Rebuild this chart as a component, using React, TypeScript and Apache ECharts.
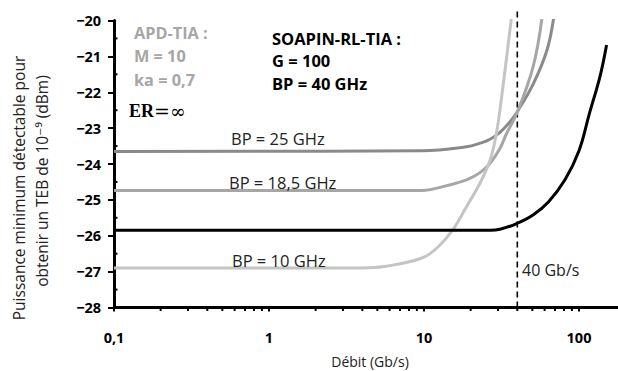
import React, { useEffect, useRef } from "react";
import * as echarts from "echarts";

// Débit (Gb/s) vs puissance minimum détectable (dBm)
const apd25: number[][] = [
  [0.1, -23.65], [9.7, -23.63], [18.8, -23.52], [23, -23.42], [26.7, -23.31],
  [30.9, -23.12], [35.9, -22.82], [39.6, -22.57], [50.5, -21.78], [61.9, -20.85], [68.5, -19.95],
];
const apd185: number[][] = [
  [0.1, -24.74], [9.7, -24.74], [13.2, -24.63], [18.8, -24.44], [23, -24.24], [26.7, -23.98],
  [30.9, -23.57], [34.1, -23.15], [39.6, -22.6], [50.5, -21.3], [57.6, -19.95],
];
const apd10: number[][] = [
  [0.1, -26.9], [4, -26.9], [5.5, -26.86], [9.7, -26.62], [12.4, -26.3], [15.3, -25.84],
  [18.8, -25.19], [23, -24.53], [26.7, -23.89], [29.2, -23.19], [31.8, -22.08], [36.6, -19.95],
];
const soapin: number[][] = [
  [0.1, -25.85], [26.7, -25.85], [30.9, -25.82], [39.6, -25.66], [50.5, -25.42], [63.7, -25.05],
  [81.2, -24.44], [100, -23.63], [116.9, -22.58], [136.4, -21.57], [150.6, -20.68],
];
const markRate = 40;
const markLineY: number[] = [-28, -19.75];
const xMin = 0.1;
const xMax = 178.5;
const yMin = -28;
const yMax = -20;
const xMinorTicks: number[] = [
  0.2, 0.3, 0.4, 0.5, 0.6, 0.7, 0.8, 0.9,
  2, 3, 4, 5, 6, 7, 8, 9,
  20, 30, 40, 50, 60, 70, 80, 90,
];
const yMinorTicks: number[] = [-27.5, -26.5, -25.5, -24.5, -23.5, -22.5, -21.5, -20.5];

const FONT = '"Open Sans", "DejaVu Sans", sans-serif';

export default function App() {
  const ref = useRef<HTMLDivElement>(null);
  useEffect(() => {
    const chart = echarts.init(ref.current!, null, { renderer: "svg" });
    const curve = (name: string, data: number[][], color: string) => ({
      name,
      type: "line",
      data,
      showSymbol: false,
      smooth: 0.4,
      lineStyle: { color, width: 3 },
      z: 3,
    });
    const text = (t: string, x: number, y: number, font: string, fill: string, align = "left") => ({
      type: "text",
      x,
      y,
      style: {
        text: t,
        font,
        fill,
        align,
        textAlign: align,
        verticalAlign: "middle",
        textVerticalAlign: "middle",
      },
      z: 10,
    });
    const vtext = (t: string, x: number, y: number) => ({
      type: "text",
      x,
      y,
      rotation: Math.PI / 2,
      style: {
        text: t,
        font: `15.5px ${FONT}`,
        fill: "#222",
        align: "center",
        textAlign: "center",
        verticalAlign: "middle",
        textVerticalAlign: "middle",
      },
    });
    chart.setOption({
      animation: false,
      grid: { left: 114, top: 20.5, right: 0, bottom: 63.5, containLabel: false },
      xAxis: {
        type: "log",
        min: xMin,
        max: xMax,
        logBase: 10,
        axisLine: { lineStyle: { color: "#000", width: 3 } },
        axisTick: { show: true, length: 4, lineStyle: { color: "#000", width: 2 } },
        splitLine: { show: false },
        axisLabel: {
          margin: 22,
          showMaxLabel: false,
          color: "#000",
          fontWeight: "bold",
          fontSize: 14.5,
          fontFamily: FONT,
          formatter: (v: number) => String(Number(v.toPrecision(6))).replace(".", ","),
        },
      },
      yAxis: {
        type: "value",
        min: yMin,
        max: yMax,
        interval: 1,
        axisLine: { show: true, lineStyle: { color: "#000", width: 3 } },
        axisTick: { show: true, length: 6, lineStyle: { color: "#000", width: 2 } },
        splitLine: { show: false },
        axisLabel: {
          margin: 13,
          color: "#000",
          fontWeight: "bold",
          fontSize: 14.5,
          fontFamily: FONT,
          formatter: (v: number) => String(v).replace("-", "\u2212"),
        },
      },
      series: [
        curve("BP = 25 GHz", apd25, "#8a8a8a"),
        curve("BP = 18,5 GHz", apd185, "#a6a6a6"),
        curve("BP = 10 GHz", apd10, "#c4c4c4"),
        curve("SOAPIN-RL-TIA", soapin, "#000000"),
        {
          name: "40 Gb/s",
          type: "line",
          data: markLineY.map((y) => [markRate, y]),
          showSymbol: false,
          clip: false,
          lineStyle: { color: "#000", width: 1.6, type: [6, 4] },
          z: 2,
        },
        {
          type: "custom",
          clip: false,
          data: xMinorTicks.map((x) => [x, yMin]),
          encode: { x: 0, y: 1 },
          renderItem: (_p: any, api: any) => {
            const p = api.coord([api.value(0), api.value(1)]);
            return {
              type: "line",
              shape: { x1: p[0], y1: p[1], x2: p[0], y2: p[1] + 3.5 },
              style: { stroke: "#000", lineWidth: 2 },
            };
          },
          z: 4,
        },
        {
          type: "custom",
          clip: false,
          data: yMinorTicks.map((y) => [xMin, y]),
          encode: { x: 0, y: 1 },
          renderItem: (_p: any, api: any) => {
            const p = api.coord([api.value(0), api.value(1)]);
            return {
              type: "line",
              shape: { x1: p[0], y1: p[1], x2: p[0] + 3.5, y2: p[1] },
              style: { stroke: "#000", lineWidth: 2 },
            };
          },
          z: 4,
        },
      ],
      graphic: [
        text("APD-TIA :", 134, 33, `bold 16.3px ${FONT}`, "#a6a6a6"),
        text("M = 10", 134, 56, `bold 16.3px ${FONT}`, "#a6a6a6"),
        text("ka = 0,7", 134, 80, `bold 16.3px ${FONT}`, "#a6a6a6"),
        {
          type: "text",
          x: 129,
          y: 111,
          style: {
            text: "{a|ER}{b|=∞}",
            rich: {
              a: { font: 'bold 18px "Liberation Serif", serif', fill: "#000", color: "#000" },
              b: { font: '19px "DejaVu Serif", serif', fill: "#000", color: "#000" },
            },
            align: "left",
            textAlign: "left",
            verticalAlign: "middle",
            textVerticalAlign: "middle",
          },
          z: 10,
        },
        text("SOAPIN-RL-TIA :", 272, 38, `bold 16.5px ${FONT}`, "#000"),
        text("G = 100", 272, 60, `bold 16.5px ${FONT}`, "#000"),
        text("BP = 40 GHz", 272, 83, `bold 16.5px ${FONT}`, "#000"),
        text("BP = 25 GHz", 231, 138, `16.5px ${FONT}`, "#222"),
        text("BP = 18,5 GHz", 229, 182, `16.5px ${FONT}`, "#222"),
        text("BP = 10 GHz", 232, 260, `16.5px ${FONT}`, "#222"),
        text("40 Gb/s", 522, 270, `16px ${FONT}`, "#222"),
        text("Débit (Gb/s)", 370, 361, `14px ${FONT}`, "#222", "center"),
        vtext("Puissance minimum détectable pour", 19, 188),
        vtext("obtenir un TEB de 10⁻⁹ (dBm)", 42, 181),
      ],
    });
    return () => chart.dispose();
  }, []);
  return (
    <div
      ref={ref}
      style={{ position: "absolute", left: 0, top: 0, width: 618, height: 371, overflow: "hidden" }}
    />
  );
}
